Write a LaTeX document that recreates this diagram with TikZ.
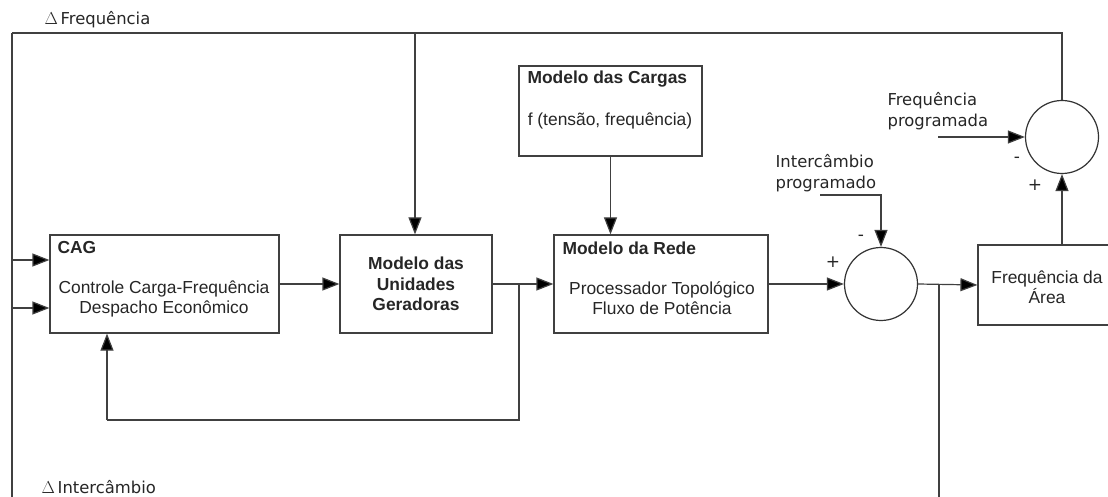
\documentclass[tikz,border=0pt]{standalone}
\usepackage{fontspec}
\setmainfont{Liberation Sans}
\newfontfamily\labfont{DejaVu Sans}
\usetikzlibrary{arrows.meta}
\begin{document}
\begin{tikzpicture}[x=1pt,y=-1pt,
  line width=1.2pt,
  wire/.style={draw=black!75},
  arr/.style={wire,-{Triangle[length=17pt,width=13pt,fill=black]}},
  blk/.style={draw=black!75,line width=1.2pt,rectangle,inner sep=0pt},
  sumc/.style={draw=black!80,line width=1.2pt,circle,inner sep=0pt,minimum size=73pt},
  txt/.style={inner sep=0pt,text=black!85,font=\fontsize{17.4}{20.5}\selectfont},
  btxt/.style={txt,font=\fontsize{17.4}{20.5}\selectfont\bfseries},
  lab/.style={inner sep=0pt,text=black!85,font=\fontsize{16.4}{21}\selectfont\labfont},
  sgn/.style={inner sep=0pt,text=black!85,font=\fontsize{17}{20}\selectfont\labfont}]
\clip (0,0) rectangle (1108,497);
\useasboundingbox (0,0) rectangle (1108,497);
% blocks
\node[blk,minimum width=229pt,minimum height=98pt] (cag) at (164.5,284) {};
\node[blk,minimum width=152pt,minimum height=98pt] (uni) at (416,284) {};
\node[blk,minimum width=214pt,minimum height=98pt] (rede) at (661,284) {};
\node[blk,minimum width=183pt,minimum height=90pt] (car) at (610.5,111) {};
\node[blk,minimum width=138pt,minimum height=80pt] (area) at (1047,285) {};
\node[sumc] (s1) at (881,284) {};
\node[sumc] (s2) at (1062,137) {};
% texts in blocks
\node[btxt,anchor=west] (tcag) at (57,248) {CAG};
\node[txt,align=center] (tcag2) at (164,299) {Controle Carga-Frequência\\Despacho Econômico};
\node[btxt,align=center] (tuni) at (416,284) {Modelo das\\Unidades\\Geradoras};
\node[btxt,anchor=west] (trede) at (562,248) {Modelo da Rede};
\node[txt,align=center] (trede2) at (662,298) {Processador Topológico\\Fluxo de Potência};
\node[btxt,anchor=west] (tcar) at (527,79) {Modelo das Cargas};
\node[txt] (tcar2) at (610,121) {f (tensão, frequência)};
\node[txt,align=center] (tarea) at (1047,287) {Frequência da\\Área};
% labels
\node[lab,anchor=west] (ldf) at (44,20) {$\Delta$\,Frequência};
\node[lab,anchor=west] (ldi) at (41,487) {$\Delta$\,Intercâmbio};
\node[lab,anchor=west,align=left] (lfp) at (887,111) {Frequência\\programada};
\node[lab,anchor=west,align=left] (lip) at (775,173) {Intercâmbio\\programado};
\node[sgn] (m1) at (861,238) {-};
\node[sgn] (p1) at (833,262) {+};
\node[sgn] (m2) at (1017,160) {-};
\node[sgn] (p2) at (1035,185) {+};
% coordinates
\coordinate (tl) at (12,33);
\coordinate (tb) at (415,33);
\coordinate (bl) at (12,497);
\coordinate (b1) at (519,284);
\coordinate (fb) at (107,420);
\coordinate (b2) at (939,284);
\coordinate (b2e) at (939,497);
\coordinate (ipst) at (820,195);
\coordinate (fpst) at (938,137);
% connectors
\draw[arr] (cag.east) -- (uni.west);
\draw[arr] (uni.east) -- (rede.west);
\draw[wire] (b1) -- (b1 |- fb) -- (fb);
\draw[arr] (fb) -- (fb |- cag.south);
\draw[arr] (rede.east) -- (s1.west);
\draw[arr] (s1.east) -- (area.west);
\draw[wire] (b2) -- (b2e);
\draw[arr] (s2.south |- area.north) -- (s2.south);
\draw[wire] (s2.north) |- (tl);
\draw[arr] (tl) |- ([yshift=-24pt]cag.west);
\draw[arr] (tb) -- (tb |- uni.north);
\draw[arr] (bl) |- ([yshift=24pt]cag.west);
\draw[arr] (car.south) -- (car.south |- rede.north);
\draw[arr] (ipst) -| (s1.north);
\draw[arr] (fpst) -- (s2.west);
\end{tikzpicture}
\end{document}
